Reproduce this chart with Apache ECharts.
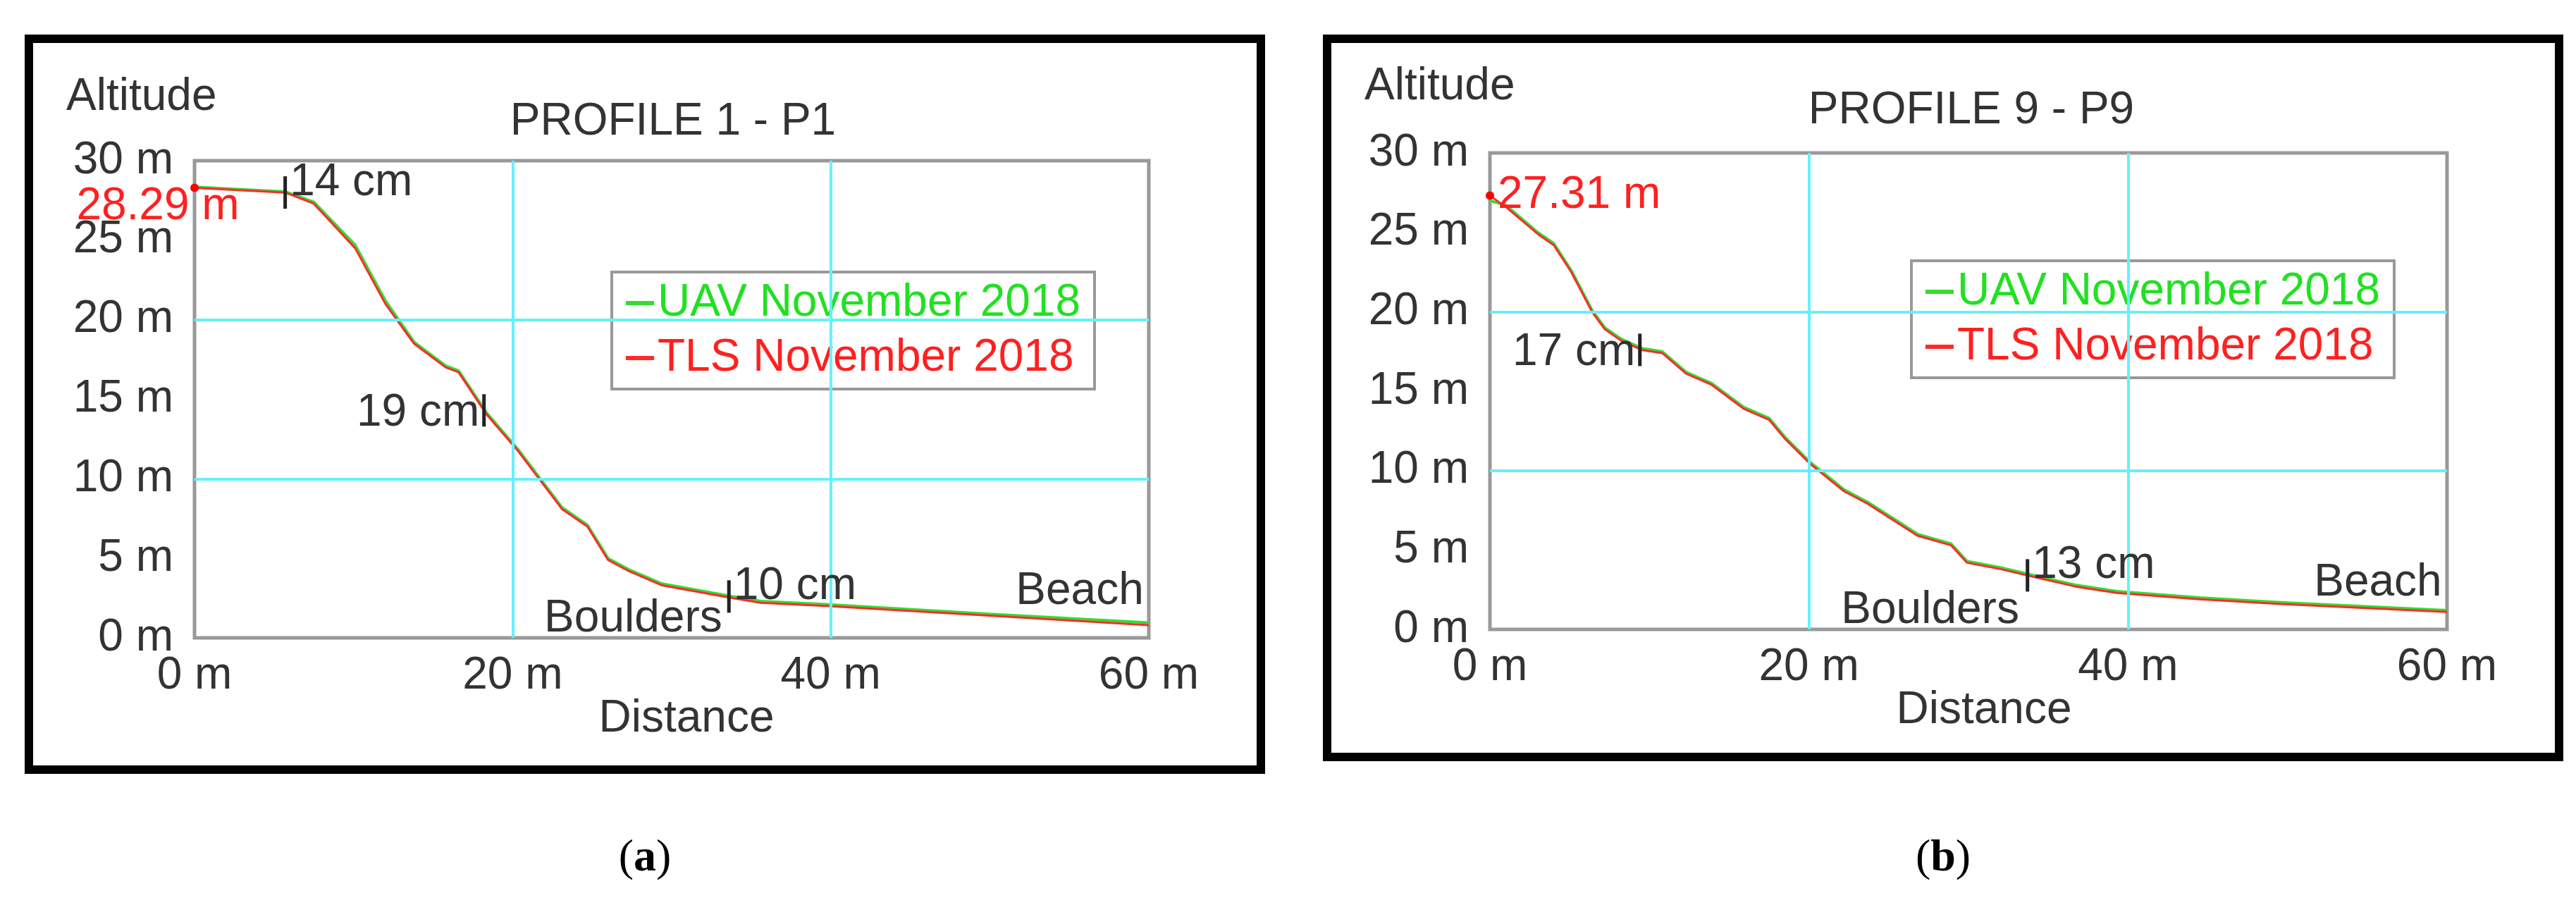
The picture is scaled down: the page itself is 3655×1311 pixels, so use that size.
<!DOCTYPE html>
<html><head><meta charset="utf-8">
<script src="https://cdn.jsdelivr.net/npm/echarts@6/dist/echarts.min.js"></script>
<style>html,body{margin:0;padding:0;background:#fff}#c{width:3655px;height:1311px}</style>
</head><body><div id="c"></div>
<script>
// Profile 1
const p1X   = [0, 5.7, 7.5, 10.1, 12, 13.8, 15.8, 16.6, 18.4, 20.3, 23.1, 24.7, 26, 27.3, 29.4, 33.8, 35.6, 39.7, 50, 60];
const p1TLS = [28.29, 28.0, 27.3, 24.5, 21.0, 18.5, 17.0, 16.7, 14.0, 11.8, 8.1, 7.0, 4.9, 4.2, 3.3, 2.5, 2.2, 2.0, 1.4, 0.8];
const p1UAV = [28.35, 28.05, 27.4, 24.7, 21.2, 18.6, 17.1, 16.8, 14.1, 11.9, 8.2, 7.1, 5.0, 4.3, 3.4, 2.6, 2.3, 2.1, 1.5, 0.95];
// Profile 9
const p9X   = [0, 1.0, 3.0, 4.0, 5.1, 6.4, 7.2, 8.2, 9.5, 10.8, 12.3, 13.9, 15.9, 17.5, 18.5, 20.1, 22.2, 23.7, 26.8, 28.9, 29.9, 32, 34.1, 36.7, 39.3, 44.5, 49.6, 60];
const p9TLS = [27.31, 26.6, 24.9, 24.2, 22.5, 20.0, 18.9, 18.2, 17.6, 17.4, 16.1, 15.4, 13.9, 13.2, 12.0, 10.4, 8.7, 7.9, 5.9, 5.3, 4.2, 3.8, 3.3, 2.7, 2.3, 1.9, 1.6, 1.1];
const p9UAV = [27.0, 26.7, 25.0, 24.3, 22.6, 20.1, 19.0, 18.3, 17.7, 17.5, 16.2, 15.5, 14.0, 13.3, 12.1, 10.5, 8.8, 8.0, 6.0, 5.4, 4.3, 3.9, 3.4, 2.8, 2.4, 2.0, 1.7, 1.2];
// annotations [x, y, text, side]
const p1Notes = [[5.7, 28.0, '14 cm', 'right'], [18.2, 14.3, '19 cm', 'left'], [33.6, 2.6, '10 cm', 'right']];
const p9Notes = [[9.4, 17.6, '17 cm', 'left'], [33.7, 3.4, '13 cm', 'right']];
const xTicks = [0, 20, 40, 60];
const yTicks = [0, 5, 10, 15, 20, 25, 30];

const FONT = 'Liberation Sans';
const TXT = '#333';
const FS = 64;
const zip = (a, b) => a.map((v, i) => [v, b[i]]);

function notesMP(notes) {
  return notes.map(n => ({
    coord: [n[0], n[1]], symbol: 'rect', symbolSize: [5, 46],
    itemStyle: { color: '#222' },
    label: { show: true, formatter: n[2], position: n[3], distance: 4, offset: n[3] === 'right' ? [0, -14] : [0, 4],
      color: TXT, fontSize: FS, fontFamily: FONT }
  }));
}
function textMP(x, y, t, offset) {
  return { coord: [x, y], symbol: 'circle', symbolSize: 1, itemStyle: { color: 'rgba(0,0,0,0)' },
    label: { show: true, formatter: t, position: 'left', distance: 0, offset: offset || [0, 0], color: TXT, fontSize: FS, fontFamily: FONT } };
}

function panel(i, xs, uav, tls, notes, startLabel, startPos, startOff) {
  return [
    { type: 'line', name: 'UAV November 2018', xAxisIndex: i, yAxisIndex: i, data: zip(xs, uav), showSymbol: false,
      lineStyle: { color: '#33dd33', width: 4 }, itemStyle: { color: '#33dd33' },
      markLine: { silent: true, symbol: 'none', label: { show: false }, lineStyle: { color: '#66f0ff', width: 4, type: 'solid' },
        data: [{ xAxis: 20 }, { xAxis: 40 }, { yAxis: 10 }, { yAxis: 20 }] }, z: 2 },
    { type: 'line', name: 'TLS November 2018', xAxisIndex: i, yAxisIndex: i, data: zip(xs, tls), showSymbol: false,
      lineStyle: { color: '#ff2a2a', width: 3 }, itemStyle: { color: '#ff2a2a' }, z: 3,
      markPoint: { silent: true, animation: false, data: [
        { coord: [0, tls[0]], symbol: 'circle', symbolSize: 12, itemStyle: { color: '#ff0000' },
          label: { show: true, formatter: startLabel, position: startPos, offset: startOff, color: '#ff2020', fontSize: FS, fontFamily: FONT } },
        ...notesMP(notes),
        textMP(33.2, 1.2, 'Boulders', [0, 0]),
        textMP(59.7, 2.9, 'Beach', [0, 0])
      ] } }
  ];
}

const chart = echarts.init(document.getElementById('c'));
const axisX = (i) => ({ type: 'value', gridIndex: i, min: 0, max: 60, interval: 20,
  axisLine: { show: false }, axisTick: { show: false }, splitLine: { show: false },
  axisLabel: { formatter: '{value} m', color: TXT, fontSize: FS, fontFamily: FONT, margin: 22 } });
const axisY = (i) => ({ type: 'value', gridIndex: i, min: 0, max: 30, interval: 5,
  axisLine: { show: false }, axisTick: { show: false }, splitLine: { show: false },
  axisLabel: { formatter: '{value} m', color: TXT, fontSize: FS, fontFamily: FONT, margin: 30 } });
const legendStyle = (left, top) => ({
  left, top, orient: 'vertical', backgroundColor: '#fff', borderColor: '#999', borderWidth: 4,
  padding: [12, 20, 12, 20], itemGap: 14, itemWidth: 40, itemHeight: 6, icon: 'rect',
  textStyle: { fontSize: FS, fontFamily: FONT },
});

chart.setOption({
  animation: false,
  title: [
    { text: 'PROFILE 1 - P1', left: 950, top: 136, textAlign: 'center', textStyle: { color: TXT, fontSize: FS, fontWeight: 'normal', fontFamily: FONT } },
    { text: 'PROFILE 9 - P9', left: 2792, top: 120, textAlign: 'center', textStyle: { color: TXT, fontSize: FS, fontWeight: 'normal', fontFamily: FONT } }
  ],
  legend: [
    Object.assign(legendStyle(868, 386), { data: [
      { name: 'UAV November 2018', textStyle: { color: '#22e022' } },
      { name: 'TLS November 2018', textStyle: { color: '#ff2020' } }] }),
    Object.assign(legendStyle(2712, 370), { data: [
      { name: 'UAV November 2018', textStyle: { color: '#22e022' } },
      { name: 'TLS November 2018', textStyle: { color: '#ff2020' } }] })
  ],
  grid: [
    { left: 276, width: 1354, top: 228, height: 677, show: true, borderColor: '#999', borderWidth: 5, backgroundColor: '#fff' },
    { left: 2114, width: 1358, top: 217, height: 676, show: true, borderColor: '#999', borderWidth: 5, backgroundColor: '#fff' }
  ],
  xAxis: [axisX(0), axisX(1)],
  yAxis: [axisY(0), axisY(1)],
  series: [
    ...panel(0, p1X, p1UAV, p1TLS, p1Notes, '28.29 m', 'inside', [-52, 27]),
    ...panel(1, p9X, p9UAV, p9TLS, p9Notes, '27.31 m', 'right', [0, 0])
  ],
  graphic: [
    { type: 'rect', shape: { x: 41, y: 55, width: 1748, height: 1037 }, style: { fill: 'none', stroke: '#000', lineWidth: 12 }, z: -1 },
    { type: 'rect', shape: { x: 1883, y: 55, width: 1748, height: 1019 }, style: { fill: 'none', stroke: '#000', lineWidth: 12 }, z: -1 },
    { type: 'text', left: 94, top: 106, style: { text: 'Altitude', fill: TXT, font: FS + 'px "' + FONT + '"' } },
    { type: 'text', left: 1936, top: 91, style: { text: 'Altitude', fill: TXT, font: FS + 'px "' + FONT + '"' } },
    { type: 'text', x: 974, y: 1020, style: { text: 'Distance', fill: TXT, font: FS + 'px "' + FONT + '"', align: 'center', verticalAlign: 'middle' } },
    { type: 'text', x: 2815, y: 1008, style: { text: 'Distance', fill: TXT, font: FS + 'px "' + FONT + '"', align: 'center', verticalAlign: 'middle' } },
    { type: 'text', x: 915, y: 1218, style: { text: '({b|a})', rich: { b: { fontWeight: 'bold', fontSize: 64, fontFamily: 'Liberation Serif' } }, fill: '#000', font: '64px "Liberation Serif"', align: 'center', verticalAlign: 'middle' } },
    { type: 'text', x: 2757, y: 1218, style: { text: '({b|b})', rich: { b: { fontWeight: 'bold', fontSize: 64, fontFamily: 'Liberation Serif' } }, fill: '#000', font: '64px "Liberation Serif"', align: 'center', verticalAlign: 'middle' } }
  ]
});
</script></body></html>
